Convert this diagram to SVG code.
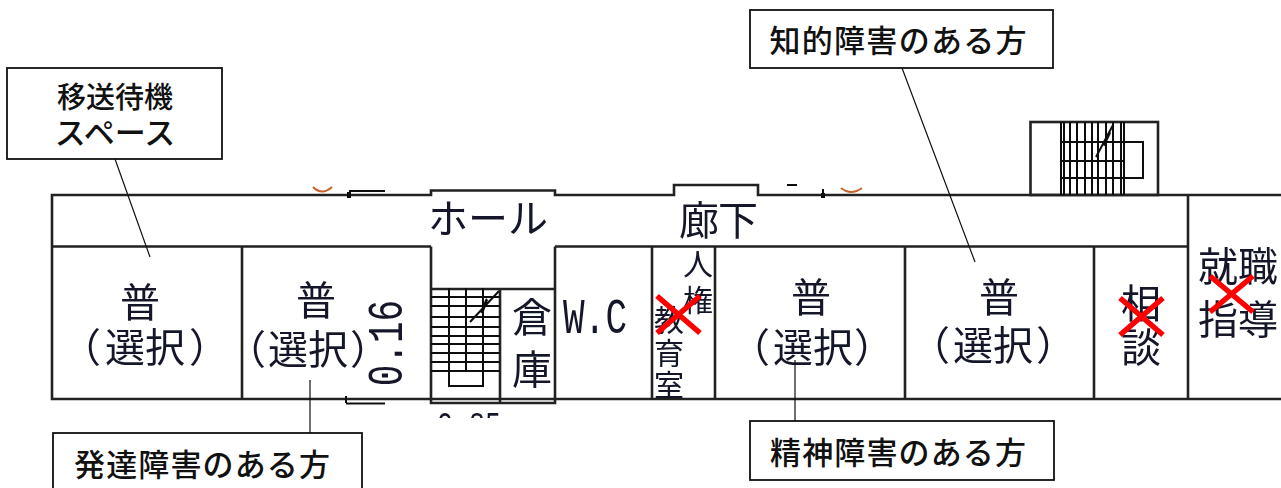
<svg xmlns="http://www.w3.org/2000/svg" width="1281" height="488" viewBox="0 0 1281 488">
<style>
.w{fill:none;stroke:#222;stroke-width:2.6}
.t{fill:none;stroke:#111;stroke-width:2}
.p{font-family:"Noto Sans CJK JP","Liberation Sans",sans-serif;font-weight:400;fill:#14182a;font-size:40px;text-anchor:middle}
.s{font-size:30px}
.m{font-family:"Liberation Mono",monospace;font-size:50px;fill:#14182a;text-anchor:middle}
.c{font-family:"Noto Sans CJK JP","Liberation Sans",sans-serif;font-weight:500;fill:#111;font-size:31px;text-anchor:middle}
.b{fill:#fff;stroke:#111;stroke-width:1.8}
.l{stroke:#111;stroke-width:1.2;fill:none}
.x{stroke:#f00;stroke-width:5.5;fill:none}
</style>
<defs>
<filter id="s" x="-2%" y="-2%" width="104%" height="104%"><feGaussianBlur stdDeviation="0.6"/></filter>
<clipPath id="cut"><rect x="430" y="404" width="80" height="14"/></clipPath>
</defs>
<g id="plan" filter="url(#s)">
<path class="w" d="M1281 195H758V185H674V195H555V190.500H431V195H52V399H1281M52 246.500H431M555 246.500H1188M242 246.500V399M652 246.500V399M715 246.500V399M905 246.500V399M1094 246.500V399M1188 195V399M431 246.500V403H555V246.500M431 289H555M500 289V403"/>
<path class="t" d="M349 191H385M346 403.500H385M787 185H797M823 189V197M346 396V403"/>
<path d="M347 192h4v6h-4zM821 193h4v5h-4z" fill="#111"/>
<path d="M313 187q9 9 19 0" fill="none" stroke="#c8632a" stroke-width="2"/>
<path d="M841 188q10 8 21 0" fill="none" stroke="#c8632a" stroke-width="2"/>
<g id="stairs-center"><path class="t" d="M431 297H500M431 306H500M431 317H500M431 327H500M431 336H500M431 344H500M431 353H500M431 362H500M431 371H500M449 288V386H483V288M466 288V371M470 322L499 291"/><path d="M480 312l6-14 2 2-5 14z" fill="#111"/></g>
<g id="stairs-east"><rect class="w" x="1030.500" y="122" width="127.500" height="73"/><path class="t" d="M1061 122V195M1064 122V195M1070 122V195M1077 122V195M1085 122V195M1092 122V195M1098 122V195M1106 122V195M1113 122V195M1121 122V195M1124 122V195M1061 142H1143V178H1061M1061 161H1124M1096 157L1113 125"/><path d="M1102 145l7-14 2 2-6 13z" fill="#111"/></g>
</g>
<g id="room-1" filter="url(#s)"><text class="p" x="140" y="317">普</text><text class="p" x="81 125 165 209" y="362">（選択）</text></g>
<g id="room-2" filter="url(#s)"><text class="p" x="316" y="315">普</text><text class="p" x="246 288 328 370" y="364">（選択）</text></g>
<g id="room-3" filter="url(#s)"><text class="p" x="811" y="312">普</text><text class="p" x="750 793 833 874" y="362">（選択）</text></g>
<g id="room-4" filter="url(#s)"><text class="p" x="930 973 1013 1056" y="360">（選択）</text><text class="p" x="999" y="312">普</text></g>
<g id="hall" filter="url(#s)"><text class="p" x="448 488 528" y="233">ホール</text></g>
<g id="corridor" filter="url(#s)"><text class="p" x="699 738" y="235">廊下</text></g>
<g id="storage" filter="url(#s)"><text class="p" x="532" y="332">倉</text><text class="p" x="532" y="384">庫</text></g>
<g id="wc" filter="url(#s)"><text class="m" transform="translate(0 333) scale(.72 1)" x="797 826 856">W.C</text></g>
<g id="dim-016" filter="url(#s)"><text class="m" transform="translate(402 343) rotate(-90) scale(.72 1)">0.16</text></g>
<g id="dim-085" filter="url(#s)"><text class="m" clip-path="url(#cut)" x="469" y="437" style="font-size:36px" textLength="64" lengthAdjust="spacingAndGlyphs">0.85</text></g>
<g id="room-jinken" filter="url(#s)"><text class="p s" x="698" y="275">人</text><text class="p s" x="698" y="311">権</text><text class="p s" x="669" y="331">教</text><text class="p s" x="669" y="364">育</text><text class="p s" x="669" y="396">室</text></g>
<g id="room-soudan" filter="url(#s)"><text class="p" x="1141" y="318">相</text><text class="p" x="1141" y="362">談</text></g>
<g id="room-shushoku" filter="url(#s)"><text class="p" x="1218 1258" y="281">就職</text><text class="p" x="1218 1258" y="334">指導</text></g>
<g id="crosses"><path class="x" d="M657 296L700 333M700 296L657 333M1120 298L1163 335M1163 298L1120 335M1210 276L1253 312M1253 276L1210 312"/></g>
<g id="connectors"><path class="l" d="M115 159L150 257M902 68L975 262M310 380V433M795 360V421"/></g>
<g id="callout-iso"><rect class="b" x="7" y="68" width="215" height="91"/><text class="c" style="font-size:29px" x="115" y="108">移送待機</text><text class="c" x="115" y="144">スペース</text></g>
<g id="callout-chiteki"><rect class="b" x="750" y="10" width="303" height="58"/><text class="c" x="898" y="52" textLength="257" lengthAdjust="spacing">知的障害のある方</text></g>
<g id="callout-hattatsu"><rect class="b" x="53" y="433" width="309" height="60"/><text class="c" x="202" y="476" textLength="256" lengthAdjust="spacing">発達障害のある方</text></g>
<g id="callout-seishin"><rect class="b" x="750" y="421" width="304" height="59"/><text class="c" x="898" y="464" textLength="256" lengthAdjust="spacing">精神障害のある方</text></g>
</svg>
